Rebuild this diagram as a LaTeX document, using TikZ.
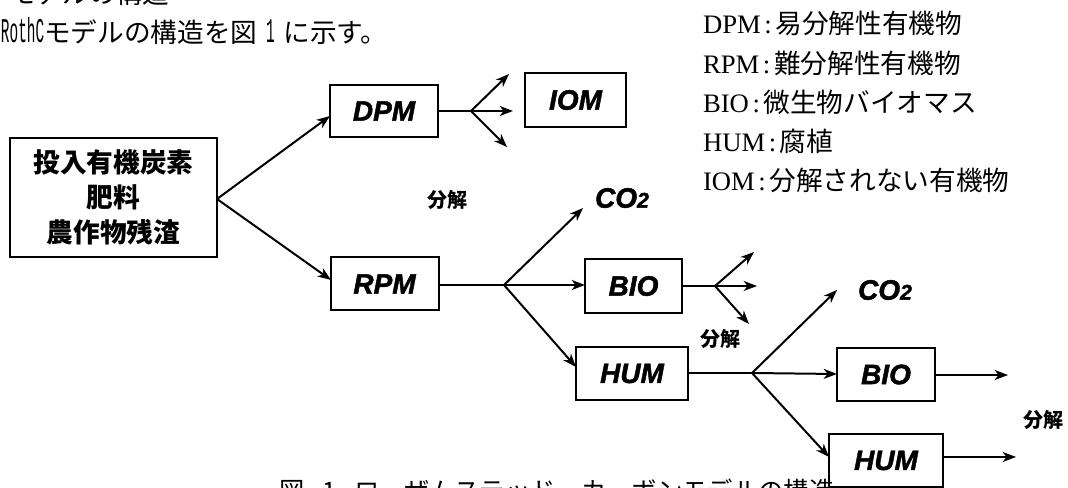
\documentclass[tikz,border=0pt]{standalone}
\usepackage{fontspec}
\usetikzlibrary{arrows.meta}
\setmainfont{Liberation Serif}
\newfontfamily\cjk{Noto Sans CJK JP}
\newfontfamily\lab{Liberation Sans Bold Italic}[FakeBold=1.6]
\newfontfamily\mono{Liberation Mono}
\newcommand\hw[1]{\scalebox{0.54}[1.3]{\mono #1}}
\begin{document}
\begin{tikzpicture}[x=0.75pt,y=-0.75pt,
  line width=1.5pt,
  >={Stealth[length=10pt,width=7.5pt,inset=3pt]},
  box/.style={draw,rectangle,inner sep=0pt,line width=1.5pt},
  lbl/.style={font=\lab\fontsize{21}{21}\selectfont},
  bunkai/.style={inner sep=0pt,font=\cjk\bfseries\fontsize{15}{15}\selectfont},
  leg/.style={anchor=base west,inner sep=0pt,font=\fontsize{20}{20}\selectfont},
  txt/.style={anchor=base west,inner sep=0pt,font=\cjk\fontsize{20}{20}\selectfont},
  co/.style={inner sep=0pt,font=\lab\fontsize{21}{21}\selectfont},
]
\useasboundingbox (0,0) rectangle (1068,488);
\clip (0,0) rectangle (1068,488);

% running text
\node[txt] (t1) at (8,4) {モデルの構造};
\node[txt] (t2) at (0,43) {\hw{RothC}モデルの構造を図\hw{\ 1\ }に示す。};
\node[txt,font=\cjk\fontsize{19}{19}\selectfont] (cap) at (278,500) {図\makebox[37.5pt]{1}ローザムステッド　カーボンモデルの構造};

% legend
\node[leg] (l1) at (702,34) {DPM\makebox[11pt]{:}{\cjk 易分解性有機物}};
\node[leg] (l2) at (702,74) {RPM\makebox[11pt]{:}{\cjk 難分解性有機物}};
\node[leg] (l3) at (702,113) {BIO\makebox[11pt]{:}{\cjk 微生物バイオマス}};
\node[leg] (l4) at (702,152) {HUM\makebox[11pt]{:}{\cjk 腐植}};
\node[leg] (l5) at (702,191) {IOM\makebox[11pt]{:}{\cjk 分解されない有機物}};

% boxes
\node[box,minimum width=155.25pt,minimum height=89.25pt,align=center,
      font=\cjk\bfseries\fontsize{20}{26}\selectfont] (in) at (113.5,197.5)
      {投入有機炭素\\肥料\\農作物残渣};
\node[box,lbl,minimum width=81pt,minimum height=39pt] (DPM) at (384,111) {DPM};
\node[box,lbl,minimum width=75.75pt,minimum height=40.5pt] (IOM) at (575.5,100) {IOM};
\node[box,lbl,minimum width=81pt,minimum height=39.75pt] (RPM) at (384.5,284) {RPM};
\node[box,lbl,minimum width=72.75pt,minimum height=40.5pt] (BIO) at (633.5,286) {BIO};
\node[box,lbl,minimum width=84pt,minimum height=39.75pt] (HUM) at (632,373.5) {HUM};
\node[box,lbl,minimum width=73.5pt,minimum height=39.75pt] (BIO2) at (886,374.5) {BIO};
\node[box,lbl,minimum width=85.5pt,minimum height=39.75pt] (HUM2) at (886,460.5) {HUM};

% labels
\node[co] (co1) at (622,198) {CO{\fontsize{16}{16}\selectfont 2}};
\node[co] (co2) at (885,290) {CO{\fontsize{16}{16}\selectfont 2}};
\node[bunkai] (k1) at (447,200) {分解};
\node[bunkai] (k2) at (720,339) {分解};
\node[bunkai] (k3) at (1043,420) {分解};

% coordinates
\coordinate (inOut) at (217,199);
\coordinate (dpmIn) at (330,116);
\coordinate (rpmIn) at (331,280);
\coordinate (b1) at (471,111);
\coordinate (e1a) at (509,74);
\coordinate (e1b) at (513,111);
\coordinate (e1c) at (507,147);
\coordinate (b2) at (504,285);
\coordinate (co1t) at (583,208);
\coordinate (bioIn) at (585,285);
\coordinate (humIn) at (576,367);
\coordinate (b3) at (715,286);
\coordinate (e3a) at (754,252);
\coordinate (e3b) at (757,286);
\coordinate (e3c) at (749,324);
\coordinate (b4) at (752,373);
\coordinate (co2t) at (837,290);
\coordinate (bio2In) at (837,374);
\coordinate (hum2In) at (829,457);
\coordinate (e5) at (1008,375);
\coordinate (e6) at (1016,457);

% connectors
\draw[->] (inOut) -- (dpmIn);
\draw[->] (inOut) -- (rpmIn);
\draw (DPM.east) -- (b1);
\draw[->] (b1) -- (e1a);
\draw[->] (b1) -- (e1b);
\draw[->] (b1) -- (e1c);
\draw (RPM.east |- b2) -- (b2);
\draw[->] (b2) -- (co1t);
\draw[->] (b2) -- (bioIn);
\draw[->] (b2) -- (humIn);
\draw (BIO.east |- b3) -- (b3);
\draw[->] (b3) -- (e3a);
\draw[->] (b3) -- (e3b);
\draw[->] (b3) -- (e3c);
\draw (HUM.east |- b4) -- (b4);
\draw[->] (b4) -- (co2t);
\draw[->] (b4) -- (bio2In);
\draw[->] (b4) -- (hum2In);
\draw[->] (BIO2.east |- e5) -- (e5);
\draw[->] (HUM2.east |- e6) -- (e6);
\end{tikzpicture}
\end{document}
